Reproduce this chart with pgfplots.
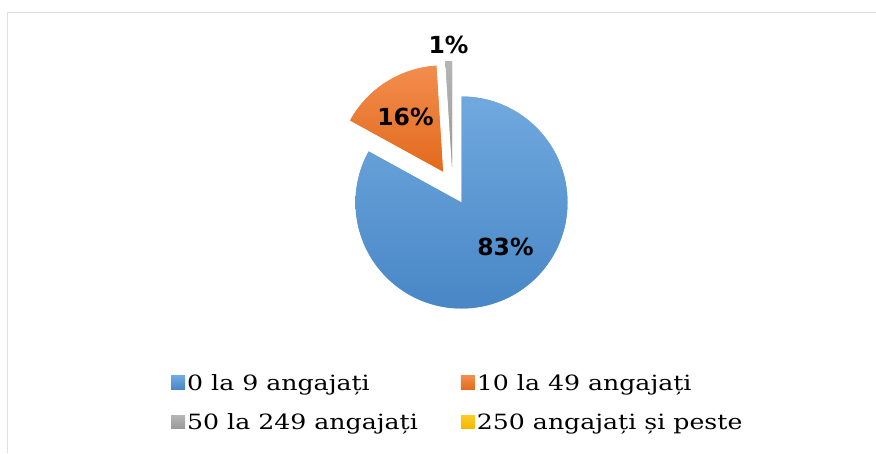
\documentclass[border=0pt]{standalone}
\usepackage{pgfplots}
\pgfplotsset{compat=1.18}
\usepackage{fontspec}
\setmainfont{DejaVu Serif}
\newfontfamily\legfont{DejaVu Serif}[FakeStretch=1.2]
\newfontfamily\labfont{DejaVu Sans}
\definecolor{blueT}{HTML}{70A9DE}
\definecolor{blueB}{HTML}{4886C6}
\definecolor{orangeT}{HTML}{F28D4E}
\definecolor{orangeB}{HTML}{E36A1C}
\definecolor{grayT}{HTML}{B5B5B5}
\definecolor{grayB}{HTML}{999999}
\definecolor{yellowT}{HTML}{FFCA28}
\definecolor{yellowB}{HTML}{F0B800}
\definecolor{frameC}{HTML}{D9E1EA}
\def\R{106}
% slice: cumulative percent before, percent, apex x, apex y (pixels), top colour, bottom colour
\newcommand\slice[6]{%
  \pgfmathsetmacro\sa{90-3.6*#1}%
  \pgfmathsetmacro\ea{90-3.6*(#1+#2)}%
  \edef\tmp{\noexpand\fill[#5!50!#6] (axis cs:#3,#4) -- ++(\sa:\R pt) arc[start angle=\sa,end angle=\ea,radius=\R pt] -- cycle;
    \noexpand\shade[draw=none,top color=#5,bottom color=#6] (axis cs:#3,#4) -- ++(\sa:\R pt) arc[start angle=\sa,end angle=\ea,radius=\R pt] -- cycle;}%
  \tmp}
\newcommand\legsq[2]{\fill[#1!50!#2] (0pt,-6.5pt) rectangle (14pt,7pt);\shade[draw=none,top color=#1,bottom color=#2] (0pt,-6.5pt) rectangle (14pt,7pt);}
\begin{document}
\begin{tikzpicture}
\useasboundingbox (0,0) rectangle (876pt,453pt);
\begin{axis}[at={(0pt,0pt)}, anchor=south west, scale only axis,
  width=876pt, height=453pt, xmin=0, xmax=876, ymin=0, ymax=453,
  y dir=reverse, hide axis, clip=false,
  legend columns=2, legend cell align=left,
  legend style={at={(0.1952,0.1788)}, anchor=north west, draw=none, fill=none,
    inner sep=0pt, font=\legfont\fontsize{21}{25}\selectfont, row sep=18pt,
    /tikz/every even column/.append style={column sep=41pt}}]
% frame
\draw[frameC, line width=1pt] (axis cs:7,453) -- (axis cs:7,12.5) -- (axis cs:876,12.5);
% data: 0 la 9 = 83%, 10 la 49 = 16%, 50 la 249 = 1%, 250+ = 0%
\slice{0}{83}{461.5}{202.5}{blueT}{blueB}
\slice{83}{16}{443}{171.5}{orangeT}{orangeB}
\slice{99}{1}{452}{167}{grayT}{grayB}
\node[font=\labfont\bfseries\fontsize{23.5}{23.5}\selectfont] at (axis cs:505.5,246.5) {83\%};
\node[font=\labfont\bfseries\fontsize{23.5}{23.5}\selectfont] at (axis cs:405.5,117) {16\%};
\node[font=\labfont\bfseries\fontsize{23.5}{23.5}\selectfont] at (axis cs:448.5,44.5) {1\%};
\addlegendimage{draw=none, legend image code/.code={\legsq{blueT}{blueB}}}
\addlegendentry{0 la 9 angajați}
\addlegendimage{draw=none, legend image code/.code={\legsq{orangeT}{orangeB}}}
\addlegendentry{10 la 49 angajați}
\addlegendimage{draw=none, legend image code/.code={\legsq{grayT}{grayB}}}
\addlegendentry{50 la 249 angajați}
\addlegendimage{draw=none, legend image code/.code={\legsq{yellowT}{yellowB}}}
\addlegendentry{250 angajați și peste}
\end{axis}
\end{tikzpicture}
\end{document}
